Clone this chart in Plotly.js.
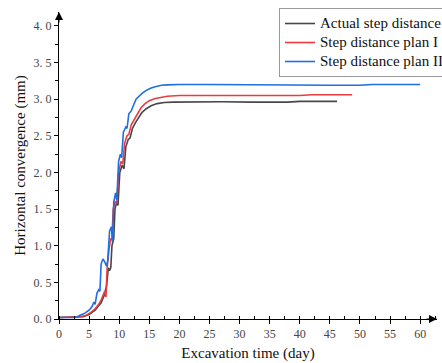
<!DOCTYPE html>
<html>
<head>
<meta charset="utf-8">
<script src="https://cdn.plot.ly/plotly-3.0.1.min.js"></script>
<style>html,body{margin:0;padding:0;background:#fff;overflow:hidden;}#chart{width:442px;height:363px;overflow:hidden;}</style>
</head>
<body>
<div id="chart"></div>
<script>
const seriesNames = ["Actual step distance", "Step distance plan I", "Step distance plan II"];

const actualX = [0,3,4,5,6,7,7.5,7.9,8.2,8.4,8.6,8.8,9.1,9.3,9.6,9.8,10.1,10.5,10.8,11.1,11.5,11.8,12.2,12.7,13.2,13.8,14.5,15.3,16.3,17.5,19,22,27,32,36,38,40,43,46.2];
const actualY = [0.02,0.02,0.03,0.06,0.12,0.22,0.32,0.45,0.70,0.66,0.70,1.00,1.10,1.50,1.60,1.55,2.00,2.10,2.05,2.35,2.45,2.47,2.60,2.68,2.75,2.82,2.87,2.91,2.94,2.955,2.96,2.965,2.965,2.96,2.955,2.96,2.97,2.97,2.97];

const planIX = [0,1,2,3,3.5,4.5,5.3,6.0,6.6,7.0,7.3,7.6,7.8,8.0,8.3,8.6,8.8,9.0,9.3,9.6,9.9,10.3,10.6,10.9,11.3,11.6,12.0,12.5,13.0,13.6,14.3,15,16,17,18,20,25,30,35,40,42,45,48.7];
const planIY = [0.02,0.02,0.02,0.02,0.03,0.05,0.09,0.14,0.20,0.26,0.33,0.38,0.30,0.70,0.95,1.10,1.08,1.50,1.60,1.58,2.00,2.15,2.12,2.40,2.50,2.52,2.65,2.72,2.80,2.88,2.94,2.98,3.01,3.03,3.04,3.05,3.05,3.05,3.045,3.05,3.06,3.06,3.06];

const planIIX = [0,1,2,2.8,3.5,4.3,5,5.5,5.8,6.0,6.3,6.6,6.8,7.0,7.3,7.6,7.9,8.1,8.4,8.7,8.9,9.1,9.4,9.6,9.9,10.2,10.4,10.7,11.1,11.3,11.6,12.0,12.4,12.8,13.3,13.8,14.5,15.2,16,17,18,20,25,30,35,40,45,50,52,55,60];
const planIIY = [0.02,0.02,0.02,0.02,0.05,0.08,0.12,0.17,0.23,0.20,0.35,0.40,0.38,0.75,0.82,0.78,0.72,0.80,1.20,1.26,1.05,1.60,1.72,1.62,2.15,2.25,2.20,2.55,2.62,2.60,2.80,2.84,2.92,3.00,3.04,3.08,3.12,3.15,3.17,3.19,3.195,3.20,3.20,3.195,3.19,3.19,3.19,3.19,3.20,3.20,3.20];

const xTickVals = [0,5,10,15,20,25,30,35,40,45,50,55,60];
const xTickText = ["0","5","10","15","20","25","30","35","40","45","50","55","60"];
const yTickVals = [0,0.5,1,1.5,2,2.5,3,3.5,4];
const yTickText = ["0. 0","0. 5","1. 0","1. 5","2. 0","2. 5","3. 0","3. 5","4. 0"];

const colors = ["#474747", "#ec3b3f", "#1e6ee6"];
const serif = "Liberation Serif, Times New Roman, serif";

const traces = [
  {x: actualX, y: actualY, name: seriesNames[0]},
  {x: planIX, y: planIY, name: seriesNames[1]},
  {x: planIIX, y: planIIY, name: seriesNames[2]}
].map((t, i) => Object.assign(t, {
  type: "scatter", mode: "lines",
  name: '<span style="font-size:15px">' + t.name + '</span>',
  line: {color: colors[i], width: 1.6}
}));

const layout = {
  width: 442, height: 363,
  margin: {l: 59, r: 5, t: 12, b: 44, autoexpand: false},
  paper_bgcolor: "#fff", plot_bgcolor: "#fff",
  showlegend: true,
  legend: {
    x: 0.582, y: 1.013, xanchor: "left", yanchor: "top",
    bgcolor: "#fff", bordercolor: "#999", borderwidth: 1,
    font: {family: serif, size: 12, color: "#111"},
    tracegroupgap: 0, itemwidth: 30
  },
  xaxis: {
    range: [0, 62.8], showgrid: false, zeroline: false,
    showline: true, linecolor: "#000", linewidth: 1,
    tickvals: xTickVals, ticktext: xTickText,
    ticks: "outside", ticklen: 4, tickcolor: "#000",
    minor: {dtick: 2.5, ticks: "inside", ticklen: 3, tickcolor: "#000", showgrid: false},
    tickfont: {family: serif, size: 12, color: "#444"},
    title: {text: "Excavation time (day)", font: {family: serif, size: 15, color: "#111"}, standoff: 7}
  },
  yaxis: {
    range: [0, 4.19], showgrid: false, zeroline: false,
    showline: true, linecolor: "#000", linewidth: 1,
    tickvals: yTickVals, ticktext: yTickText,
    ticks: "outside", ticklen: 4, tickcolor: "#000",
    minor: {dtick: 0.25, ticks: "outside", ticklen: 3, tickcolor: "#000", showgrid: false},
    tickfont: {family: serif, size: 12, color: "#444"},
    title: {text: "Horizontal convergence (mm)", font: {family: serif, size: 15, color: "#111"}, standoff: 4}
  },
  annotations: [
    {xref: "paper", yref: "paper", x: 1, y: 0, ax: -12, ay: 0, text: "", showarrow: true, arrowhead: 2, arrowsize: 1.6, arrowwidth: 1, arrowcolor: "#000"},
    {xref: "paper", yref: "paper", x: 0, y: 1, ax: 0, ay: 12, text: "", showarrow: true, arrowhead: 2, arrowsize: 1.6, arrowwidth: 1, arrowcolor: "#000"}
  ]
};

Plotly.newPlot("chart", traces, layout, {displayModeBar: false, staticPlot: true});
</script>
</body>
</html>
